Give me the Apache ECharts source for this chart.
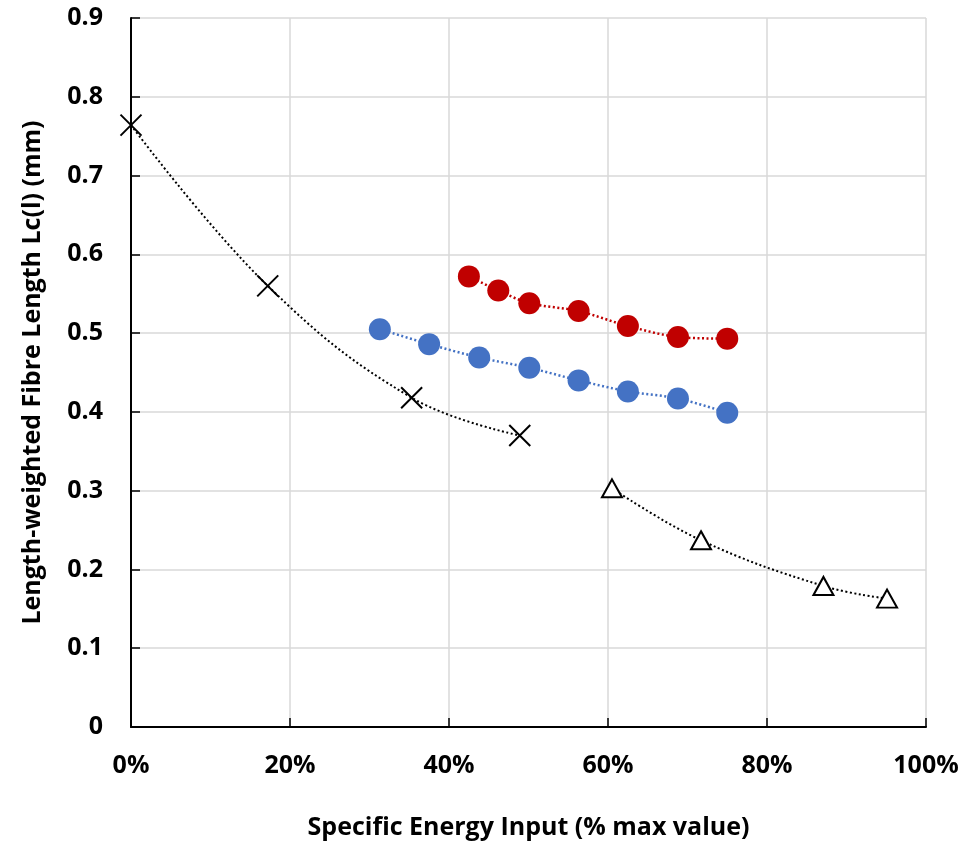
<!doctype html>
<html>
<head>
<meta charset="utf-8">
<title>Fibre length vs specific energy</title>
<script src="https://cdn.jsdelivr.net/npm/echarts@6/dist/echarts.min.js"></script>
<style>
    body{margin:0;background:#fff;}
    #main{width:968px;height:845px;}
</style>
</head>
<body>
<div id="main"></div>
<script>
    // data: [x % of max energy, Lc(l) mm]
    var crossX = [0, 17.2, 35.3, 48.9];
    var crossY = [0.764, 0.560, 0.418, 0.370];
    var triX = [60.5, 71.7, 87.1, 95.1];
    var triY = [0.303, 0.237, 0.179, 0.163];
    var redX = [42.5, 46.2, 50.1, 56.3, 62.5, 68.8, 75.0];
    var redY = [0.572, 0.554, 0.538, 0.528, 0.509, 0.495, 0.493];
    var blueX = [31.3, 37.5, 43.8, 50.1, 56.3, 62.5, 68.8, 75.0];
    var blueY = [0.505, 0.486, 0.469, 0.456, 0.440, 0.426, 0.417, 0.399];

    function pairs(xs, ys){
        var out = [];
        for (var i = 0; i < xs.length; i++) out.push([xs[i], ys[i]]);
        return out;
    }

    var font = "'Open Sans', sans-serif";

    var myChart = echarts.init(document.getElementById("main"));
    var option = {
        animation:false,
        grid:{left:131, right:42, top:18, bottom:115},
        xAxis:{
            type:'value', min:0, max:100, interval:20,
            name:'Specific Energy Input (% max value)',
            nameLocation:'middle', nameGap:88,
            nameTextStyle:{fontSize:25, fontWeight:'bold', color:'#000', fontFamily:font},
            axisLine:{lineStyle:{color:'#000', width:2}},
            axisTick:{inside:true, length:9, lineStyle:{color:'#000', width:1.5}},
            axisLabel:{formatter:'{value}%', fontSize:25, fontWeight:'bold', color:'#000', fontFamily:font, margin:26},
            splitLine:{lineStyle:{color:'#d9d9d9', width:1.5}}
        },
        yAxis:{
            type:'value', min:0, max:0.9, interval:0.1,
            name:'Length-weighted Fibre Length Lc(l) (mm)',
            nameLocation:'middle', nameGap:86,
            nameTextStyle:{fontSize:25, fontWeight:'bold', color:'#000', fontFamily:font},
            axisLine:{show:true, lineStyle:{color:'#000', width:2}},
            axisTick:{show:true, inside:true, length:9, lineStyle:{color:'#000', width:1.5}},
            axisLabel:{
                formatter:function(v){ return v === 0 ? '0' : v.toFixed(1); },
                fontSize:25, fontWeight:'bold', color:'#000', fontFamily:font, margin:28
            },
            splitLine:{lineStyle:{color:'#d9d9d9', width:1.5}}
        },
        series:[
            {
                name:'cross', type:'line', data:pairs(crossX, crossY), smooth:0.4,
                symbol:'path://M0,0L10,10M10,0L0,10', symbolSize:21,
                itemStyle:{color:'transparent', borderColor:'#000', borderWidth:2},
                lineStyle:{color:'#000', width:2, type:[2,2.5]}
            },
            {
                name:'triangle', type:'line', data:pairs(triX, triY), smooth:0.4,
                symbol:'triangle', symbolSize:[20,18],
                itemStyle:{color:'#fff', borderColor:'#000', borderWidth:2},
                lineStyle:{color:'#000', width:2, type:[2,2.5]},
                z:3
            },
            {
                name:'red', type:'line', data:pairs(redX, redY), smooth:0.3,
                symbol:'circle', symbolSize:22,
                itemStyle:{color:'#C00000'},
                lineStyle:{color:'#C00000', width:2.5, type:[2,2.5]}
            },
            {
                name:'blue', type:'line', data:pairs(blueX, blueY), smooth:0.3,
                symbol:'circle', symbolSize:22,
                itemStyle:{color:'#4472C4'},
                lineStyle:{color:'#4472C4', width:2.5, type:[2,2.5]}
            }
        ]
    };
    myChart.setOption(option);
</script>
</body>
</html>
